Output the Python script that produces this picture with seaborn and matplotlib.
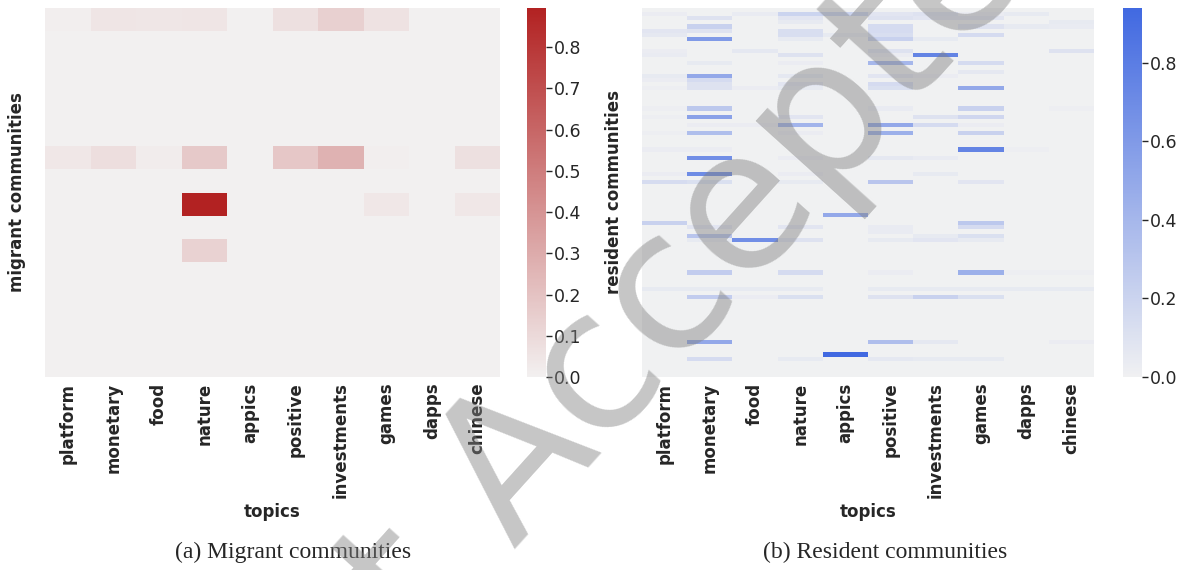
import numpy as np
import pandas as pd
import seaborn as sns
import matplotlib.pyplot as plt

# ---------------- data ----------------
topics = ["platform", "monetary", "food", "nature", "appics",
          "positive", "investments", "games", "dapps", "chinese"]

# migrant communities (16 communities), community index -> share, one dict per topic
n_migrant = 16
mig_platform    = {0: 0.01, 6: 0.04}
mig_monetary    = {0: 0.05, 6: 0.08}
mig_food        = {0: 0.045, 6: 0.02}
mig_nature      = {0: 0.05, 6: 0.17, 8: 0.895, 10: 0.13}
mig_appics      = {}
mig_positive    = {0: 0.07, 6: 0.18}
mig_investments = {0: 0.14, 6: 0.27}
mig_games       = {0: 0.06, 6: 0.01, 8: 0.04}
mig_dapps       = {}
mig_chinese     = {6: 0.07, 8: 0.04}

# resident communities (90 communities), community index -> share
n_resident = 90
res_platform = {1: .03, 5: .08, 6: .06, 10: .03, 11: .04, 16: .05, 17: .03, 19: .02,
                24: .02, 26: .02, 30: .02, 34: .03, 40: .03, 42: .14, 52: .22, 68: .05}
res_monetary = {2: .10, 4: .22, 5: .10, 7: .60, 13: .05, 16: .50, 17: .15, 18: .10,
                19: .10, 24: .28, 26: .55, 28: .03, 30: .35, 34: .03, 36: .68, 40: .70,
                42: .12, 53: .08, 55: .30, 56: .05, 64: .25, 68: .05, 70: .25, 81: .50,
                85: .15}
res_food = {1: .04, 10: .06, 19: .03, 28: .03, 56: .68, 68: .05, 70: .03}
res_nature = {1: .20, 2: .08, 3: .05, 5: .13, 6: .13, 7: .05, 11: .10, 13: .03, 16: .06,
              18: .08, 19: .05, 26: .08, 28: .42, 30: .03, 36: .03, 40: .03, 42: .05,
              53: .08, 56: .10, 64: .15, 68: .05, 70: .12, 85: .05}
res_appics = {1: .20, 6: .05, 50: .50, 84: .94}
res_positive = {1: .08, 2: .10, 4: .15, 5: .15, 6: .13, 7: .22, 10: .10, 11: .03,
                13: .40, 16: .08, 18: .15, 19: .12, 24: .04, 28: .50, 30: .45, 36: .06,
                42: .30, 53: .04, 54: .04, 56: .05, 64: .03, 68: .05, 70: .10, 81: .35,
                85: .06}
res_investments = {1: .10, 2: .08, 7: .05, 11: .75, 16: .03, 26: .10, 28: .15, 36: .04,
                   40: .05, 55: .05, 56: .08, 68: .05, 70: .22, 81: .06, 85: .05}
res_games = {1: .03, 2: .08, 4: .10, 6: .15, 13: .15, 15: .06, 19: .50, 24: .22,
             26: .18, 28: .03, 30: .22, 34: .75, 42: .08, 52: .28, 53: .15, 55: .12,
             56: .05, 64: .45, 68: .05, 70: .12, 85: .05}
res_dapps = {1: .05, 4: .05, 34: .02, 64: .02, 68: .05}
res_chinese = {3: .05, 4: .04, 10: .10, 24: .02, 64: .02, 68: .05, 81: .03}

mig_cols = [mig_platform, mig_monetary, mig_food, mig_nature, mig_appics,
            mig_positive, mig_investments, mig_games, mig_dapps, mig_chinese]
res_cols = [res_platform, res_monetary, res_food, res_nature, res_appics,
            res_positive, res_investments, res_games, res_dapps, res_chinese]


def build(cols, n):
    return pd.DataFrame({t: [c.get(i, 0.0) for i in range(n)] for t, c in zip(topics, cols)})


mig_df = build(mig_cols, n_migrant)
res_df = build(res_cols, n_resident)

# ---------------- figure ----------------
sns.set_theme(style="white")
plt.rcParams['font.family'] = ['DejaVu Sans']

W, H = 1183, 570
fig = plt.figure(figsize=(W / 100, H / 100), dpi=100)


def box(x0, x1, y0, y1):
    return [x0 / W, 1 - y1 / H, (x1 - x0) / W, (y1 - y0) / H]


ax1 = fig.add_axes(box(45, 500, 8, 377))
cax1 = fig.add_axes(box(527, 546, 8, 377))
ax2 = fig.add_axes(box(642, 1094, 8, 377))
cax2 = fig.add_axes(box(1123, 1142, 8, 377))

panels = [
    (ax1, cax1, mig_df, "firebrick", "migrant communities"),
    (ax2, cax2, res_df, "royalblue", "resident communities"),
]
for ax, cax, df, col, ylab in panels:
    sns.heatmap(df, ax=ax, cbar_ax=cax, cmap=sns.light_palette(col, as_cmap=True),
                xticklabels=topics, yticklabels=False)
    ax.set_xticklabels(topics, rotation=90, fontweight='bold', fontsize=12)
    ax.tick_params(axis='x', length=0, pad=4)
    ax.set_xlabel("topics", fontweight='bold', fontsize=12, labelpad=3)
    ax.set_ylabel(ylab, fontweight='bold', fontsize=12, labelpad=14)
    cax.tick_params(right=True, length=4, width=1, labelsize=12.5, pad=2)

fig.text(293 / W, 1 - 552 / H, "(a) Migrant communities", ha='center', va='center',
         family='Liberation Serif', fontsize=17)
fig.text(885 / W, 1 - 552 / H, "(b) Resident communities", ha='center', va='center',
         family='Liberation Serif', fontsize=17)

# watermark
fig.text(640 / W, 1 - 340 / H, "Just Accepted", rotation=48, rotation_mode='anchor',
         ha='center', va='center', fontsize=140, color='#808080', alpha=0.45)

fig.savefig("out.png", dpi=100)
